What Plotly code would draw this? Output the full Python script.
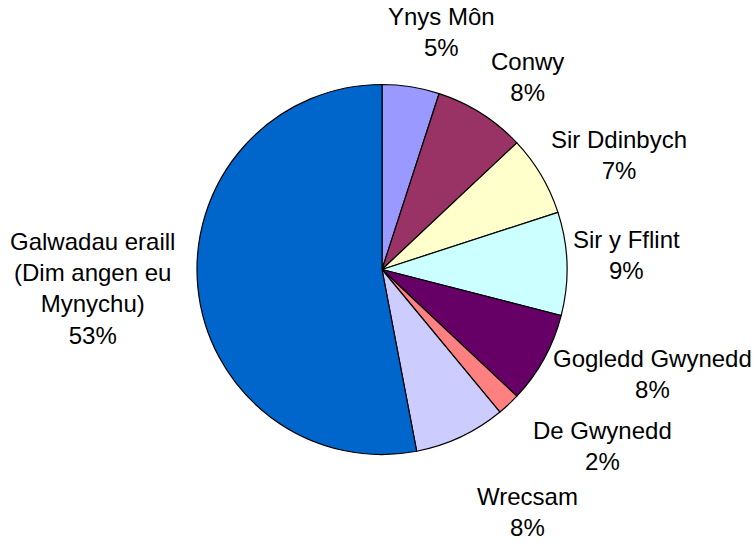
import plotly.graph_objects as go

categories = ["Ynys Môn", "Conwy", "Sir Ddinbych", "Sir y Fflint",
              "Gogledd Gwynedd", "De Gwynedd", "Wrecsam",
              "Galwadau eraill<br>(Dim angen eu<br>Mynychu)"]
values = [5, 8, 7, 9, 8, 2, 8, 53]
colors = ["#9999FF", "#993366", "#FFFFCC", "#CCFFFF",
          "#660066", "#FF8080", "#CCCCFF", "#0066CC"]

W, H = 755, 542
cx, cy, r = 382, 269.5, 185
FONT = "Liberation Sans, Arial, sans-serif"

# Label box centres (layout only, in pixels from top-left)
label_centres = [(441, 32), (527, 77), (619, 155), (626, 255),
                 (652, 374), (602, 446), (527, 512), (92, 288)]

fig = go.Figure(go.Pie(
    labels=categories,
    values=values,
    sort=False,
    direction="clockwise",
    rotation=0,
    marker=dict(colors=colors, line=dict(color="black", width=1.2)),
    textinfo="none",
    showlegend=False,
    hoverinfo="label+percent",
    domain=dict(x=[(cx - r) / W, (cx + r) / W],
                y=[(H - cy - r) / H, (H - cy + r) / H]),
))

total = sum(values)
annotations = []
for lab, v, (px, py) in zip(categories, values, label_centres):
    annotations.append(dict(
        x=px / W, y=1 - py / H, xref="paper", yref="paper",
        xanchor="center", yanchor="middle", align="center", showarrow=False,
        text=f"{lab}<br>{round(100 * v / total)}%",
        font=dict(family=FONT, size=24, color="black"),
    ))

fig.update_layout(
    width=W, height=H,
    margin=dict(l=0, r=0, t=0, b=0),
    paper_bgcolor="white",
    plot_bgcolor="white",
    font=dict(family=FONT, size=24, color="black"),
    annotations=annotations,
)

fig.write_html("out.html",
               config={"displayModeBar": False},
               post_script="document.body.style.margin='0';document.body.style.overflow='hidden';")
